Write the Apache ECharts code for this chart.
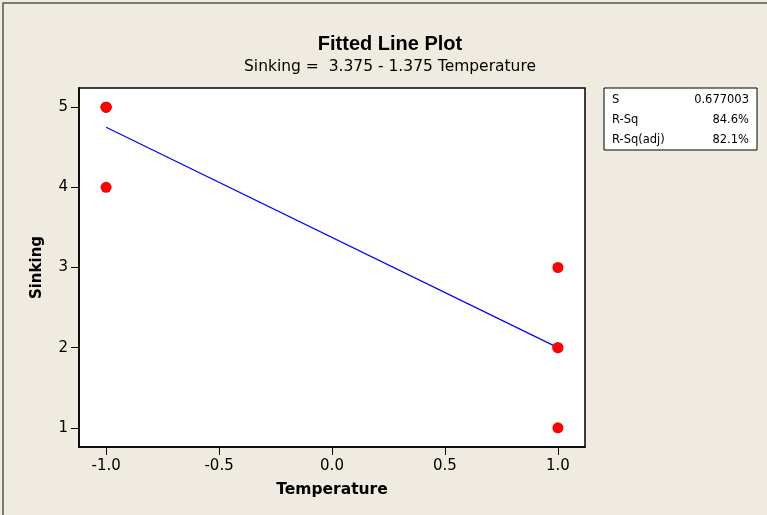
<!DOCTYPE html>
<html>
<head>
<meta charset="utf-8">
<script src="https://cdn.jsdelivr.net/npm/echarts@6/dist/echarts.min.js"></script>
<style>
html, body { margin: 0; padding: 0; background: #EFEBE1; }
#box { width: 767px; height: 515px; }
</style>
</head>
<body>
<div id="box"></div>
<script>
// observations
var temperature = [-1, -1, -1, -1, 1, 1, 1, 1]
var sinking = [5, 5, 5, 4, 3, 2, 2, 1]
// fitted line ends
var fitX = [-1, 1]
var fitY = [4.75, 2.0]
var xTicks = [-1.0, -0.5, 0.0, 0.5, 1.0]
var yTicks = [1, 2, 3, 4, 5]
// summary table
var statNames = ["S", "R-Sq", "R-Sq(adj)"]
var statValues = ["0.677003", "84.6%", "82.1%"]

var myCharts = echarts.init(document.getElementById("box"))
var font = "DejaVu Sans"

var tableEls = [{
	type: "rect",
	shape: { x: 604, y: 88, width: 153, height: 62 },
	style: { fill: "#ffffff", stroke: "#000000", lineWidth: 1 },
}]
statNames.forEach(function (n, i) {
	tableEls.push({
		type: "text", x: 612, y: 100 + i * 20,
		style: { text: n, font: "11.5px " + font, fill: "#000", textVerticalAlign: "middle" },
	})
	tableEls.push({
		type: "text", x: 749, y: 100 + i * 20,
		style: { text: statValues[i], font: "11.5px " + font, fill: "#000", textAlign: "right", textVerticalAlign: "middle" },
	})
})

var option = {
	backgroundColor: "#EFEBE1",
	animation: false,
	title: {
		text: "Fitted Line Plot",
		subtext: "Sinking =  3.375 - 1.375 Temperature",
		left: 385,
		textAlign: "center",
		top: 29,
		itemGap: 5,
		textStyle: { fontFamily: "Liberation Sans", fontSize: 20, fontWeight: "bold", color: "#000" },
		subtextStyle: { fontFamily: font, fontSize: 15.5, color: "#000" },
	},
	grid: {
		left: 79, top: 88, width: 506, height: 359,
		show: true, backgroundColor: "#ffffff", borderColor: "#000000", borderWidth: 1.5,
	},
	xAxis: {
		type: "value",
		min: -1.12,
		max: 1.12,
		name: "Temperature",
		nameLocation: "middle",
		nameGap: 35,
		nameTextStyle: { fontFamily: font, fontSize: 15.5, fontWeight: "bold", color: "#000" },
		axisLine: { show: true, onZero: false, lineStyle: { color: "#000", width: 1.5 } },
		axisTick: {
			show: true, length: 8,
			lineStyle: { color: "#000" },
			customValues: xTicks,
		},
		axisLabel: {
			customValues: xTicks,
			fontFamily: font, fontSize: 15, color: "#000", margin: 12,
			formatter: function (v) { return v.toFixed(1) },
		},
		splitLine: { show: false },
	},
	yAxis: {
		type: "value",
		min: 0.76,
		max: 5.24,
		name: "Sinking",
		nameLocation: "middle",
		nameGap: 34,
		nameTextStyle: { fontFamily: font, fontSize: 15, fontWeight: "bold", color: "#000" },
		axisLine: { show: true, onZero: false, lineStyle: { color: "#000", width: 1.5 } },
		axisTick: {
			show: true, length: 8,
			lineStyle: { color: "#000" },
			customValues: yTicks,
		},
		axisLabel: {
			customValues: yTicks,
			fontFamily: font, fontSize: 15, color: "#000", margin: 11,
		},
		splitLine: { show: false },
	},
	series: [
		{
			type: "line",
			data: fitX.map(function (x, i) { return [x, fitY[i]] }),
			symbol: "none",
			lineStyle: { color: "#0000FF", width: 1.2 },
			z: 2,
		},
		{
			type: "scatter",
			data: temperature.map(function (x, i) { return [x, sinking[i]] }),
			symbol: "circle",
			symbolSize: 11,
			itemStyle: { color: "#FF0000", opacity: 1 },
			z: 3,
		},
	],
	graphic: [
		{
			type: "rect",
			shape: { x: 3, y: 3, width: 770, height: 520 },
			style: { fill: "none", stroke: "#555555", lineWidth: 1.5 },
		},
	].concat(tableEls),
}
myCharts.setOption(option)
</script>
</body>
</html>
